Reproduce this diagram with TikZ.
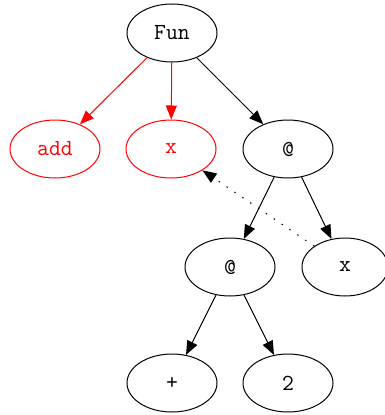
\documentclass[tikz,border=0pt]{standalone}
\usetikzlibrary{arrows.meta,shapes.geometric}
\begin{document}
\begin{tikzpicture}[x=1pt,y=-1pt,
  nd/.style={draw,ellipse,minimum width=90pt,minimum height=58pt,inner sep=0pt,line width=1pt,font=\ttfamily\fontsize{23}{23}\selectfont},
  rd/.style={nd,red,text=red},
  ed/.style={line width=1pt,-{Triangle[length=14pt,width=11pt]}},
  red edge/.style={ed,red}]
\useasboundingbox (0,0) rectangle (384,415);
\node[nd] (fun) at (172,33) {Fun};
\node[rd] (add) at (55,149) {add};
\node[rd] (x1) at (171,149) {x};
\node[nd] (at1) at (288,149) {@};
\node[nd] (at2) at (230,267) {@};
\node[nd,minimum width=86pt] (x2) at (345,267) {x};
\node[nd] (plus) at (172,383) {+};
\node[nd] (two) at (288,383) {2};
\draw[red edge] (fun) -- (add);
\draw[red edge] (fun) -- (x1);
\draw[ed] (fun) -- (at1);
\draw[ed] (at1) -- (at2);
\draw[ed] (at1) -- (x2);
\draw[ed] (at2) -- (plus);
\draw[ed] (at2) -- (two);
\draw[ed,dash pattern=on 1.5pt off 8pt] (x2) -- (x1);
\end{tikzpicture}
\end{document}
